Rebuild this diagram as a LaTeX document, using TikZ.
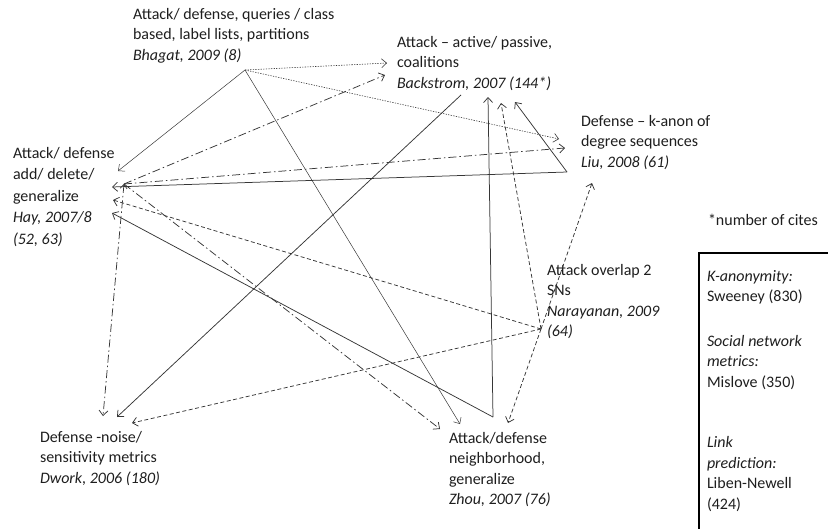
\documentclass[tikz,border=0pt]{standalone}
\usepackage{fontspec}
\setmainfont{Carlito}
\usetikzlibrary{arrows.meta}
\definecolor{lncol}{HTML}{363636}
\definecolor{txtcol}{HTML}{1E1E1E}
\begin{document}
\begin{tikzpicture}[x=1pt,y=-1pt,
  txt/.style={anchor=north west, inner sep=0pt, outer sep=0pt, align=left, text=txtcol, font=\fontsize{16}{20.5}\selectfont},
  conn/.style={draw=lncol, line width=0.75pt, -{Straight Barb[length=5pt,width=9pt]}},
  solidln/.style={conn},
  dotln/.style={conn, line width=0.6pt, dash pattern=on 1.3pt off 1.3pt},
  thinln/.style={conn, line width=0.5pt},
  dashln/.style={conn, dash pattern=on 4pt off 2.5pt},
  dashdotln/.style={conn, dash pattern=on 8pt off 3pt on 1.5pt off 3pt},
  legendbox/.style={draw=black, line width=2pt}
]
\useasboundingbox (0,0) rectangle (828,528);

% text nodes
\node[txt] (bhagat) at (133,8) {Attack/ defense, queries / class\\based, label lists, partitions\\\textit{Bhagat, 2009 (8)}};
\node[txt] (backstrom) at (397,36) {Attack -- active/ passive,\\coalitions\\\textit{Backstrom, 2007 (144*)}};
\node[txt] (liu) at (581,115) {Defense -- k-anon of\\degree sequences\\\textit{Liu, 2008 (61)}};
\node[txt, font=\fontsize{16}{21.5}\selectfont] (hay) at (13,147) {Attack/ defense\\add/ delete/\\generalize\\\textit{Hay, 2007/8}\\\textit{(52, 63)}};
\node[txt] (narayanan) at (547,264) {Attack overlap 2\\SNs\\\textit{Narayanan, 2009}\\\textit{(64)}};
\node[txt] (dwork) at (40,431) {Defense -noise/\\sensitivity metrics\\\textit{Dwork, 2006 (180)}};
\node[txt] (zhou) at (449,432) {Attack/defense\\neighborhood,\\generalize\\\textit{Zhou, 2007 (76)}};
\node[txt] (cites) at (708,214) {*number of cites};

% legend box
\draw[legendbox] (699,540) -- (699,253) -- (840,253);
\node[txt] (legend) at (707,270) {\textit{K-anonymity:}\\Sweeney (830)\\[24pt]\textit{Social network}\\\textit{metrics:}\\Mislove (350)\\[40pt]\textit{Link}\\\textit{prediction:}\\Liben-Newell\\(424)};

% hubs
\coordinate (bh) at (245,70);
\coordinate (lh) at (567,172);
\coordinate (zh) at (493,417);
\coordinate (nh) at (541,329);
\coordinate (hd) at (124,184);
\coordinate (bs) at (461,95);

% arrow tips at Backstrom
\coordinate (bk1) at (387,63);
\coordinate (bk2) at (385,75);
\coordinate (bk3) at (515,102);
\coordinate (bk4) at (488,97);
\coordinate (bk5) at (501,103);
% at Liu
\coordinate (liu1) at (559,139);
\coordinate (liu2) at (565,148);
\coordinate (liu3) at (592,183);
% at Hay
\coordinate (hay1) at (118,171);
\coordinate (hay2) at (112,187);
\coordinate (hay3) at (113,200);
\coordinate (hay4) at (112,213);
% at Dwork
\coordinate (dw1) at (103,416);
\coordinate (dw2) at (117,417);
\coordinate (dw3) at (132,423);
% at Zhou
\coordinate (zo1) at (440,429);
\coordinate (zo2) at (460,424);
\coordinate (zo3) at (508,423);

% Bhagat
\draw[dotln] (bh) -- (bk1);
\draw[dotln] (bh) -- (liu1);
\draw[thinln] (bh) -- (hay1);
\draw[thinln] (bh) -- (zo2);
% Hay dash-dot
\draw[dashdotln] (hd) -- (bk2);
\draw[dashdotln] (hd) -- (liu2);
\draw[dashdotln] (hd) -- (zo1);
\draw[dashdotln, {Straight Barb[length=4pt,width=7pt]}-{Straight Barb[length=5pt,width=9pt]}] (hd) -- (dw1);
% Liu solid
\draw[solidln] (lh) -- (hay2);
\draw[solidln] (lh) -- (bk3);
% Backstrom solid
\draw[solidln] (bs) -- (dw2);
% Zhou solid
\draw[solidln] (zh) -- (bk4);
\draw[solidln] (zh) -- (hay4);
% Narayanan dashed
\draw[dashln] (nh) -- (bk5);
\draw[dashln] (nh) -- (liu3);
\draw[dashln] (nh) -- (hay3);
\draw[dashln] (nh) -- (dw3);
\draw[dashln] (nh) -- (zo3);
\end{tikzpicture}
\end{document}
